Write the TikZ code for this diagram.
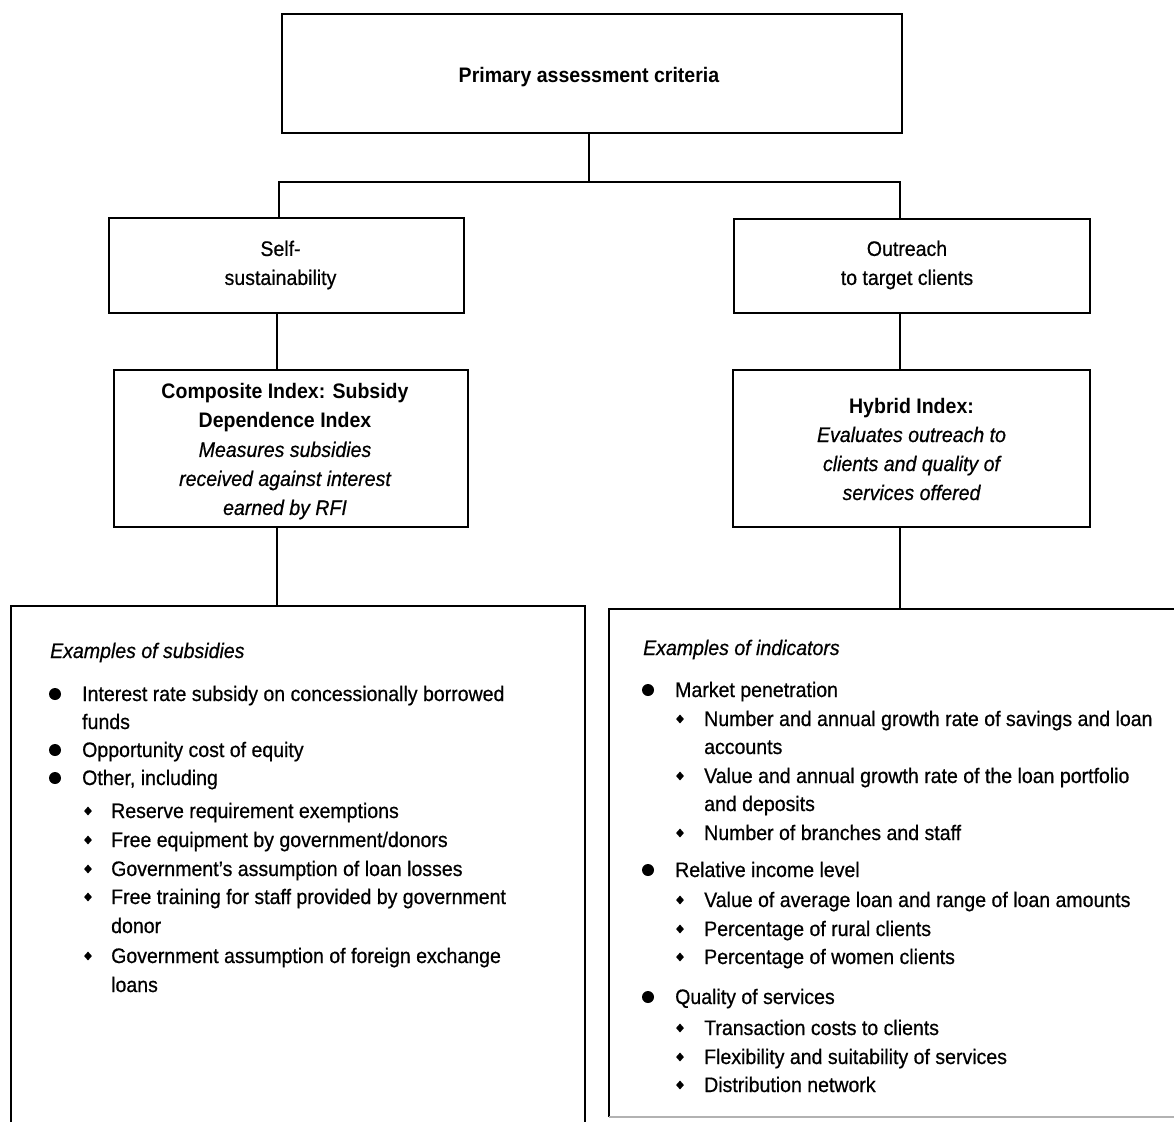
\documentclass[tikz,border=0pt]{standalone}
\usepackage{fontspec}
\setmainfont{Liberation Sans}[FakeStretch=0.93, UprightFeatures={FakeBold=0.6}, ItalicFeatures={FakeBold=0.6}]
\usetikzlibrary{shapes.geometric}
\begin{document}
\begin{tikzpicture}[x=1pt,y=-1pt,
  font=\fontsize{21}{29}\selectfont,
  box/.style={draw, line width=2.5pt, inner sep=0pt},
  txt/.style={inner sep=0pt, align=center},
  lnk/.style={line width=2.5pt},
  itm/.style={anchor=base west, inner sep=0pt},
  dotb/.style={circle, fill, inner sep=0pt, minimum size=12pt},
  diab/.style={diamond, fill, inner sep=0pt, minimum width=8pt, minimum height=9pt}]
\useasboundingbox (0,0) rectangle (1174,1122);
\fill[white] (0,0) rectangle (1174,1122);

% boxes
\node[box, minimum width=620pt, minimum height=119pt] (top) at (592,73.5) {};
\node[box, minimum width=355pt, minimum height=95pt] (self) at (286.5,265.5) {};
\node[box, minimum width=356pt, minimum height=94pt] (out) at (912,266) {};
\node[box, minimum width=354pt, minimum height=157pt] (comp) at (291,448.5) {};
\node[box, minimum width=357pt, minimum height=157pt] (hyb) at (911.5,448.5) {};

% box texts
\node[txt] (topt) at (589,77) {\bfseries Primary assessment criteria};
\node[txt] (selft) at (280.5,265) {Self-\\sustainability};
\node[txt] (outt) at (907,265) {Outreach\\to target clients};
\node[txt] (compt) at (285,451.5)
  {\bfseries Composite Index: Subsidy\\\bfseries Dependence Index\\\itshape Measures subsidies\\\itshape received against interest\\\itshape earned by RFI};
\node[txt] (hybt) at (911.5,449)
  {\bfseries Hybrid Index:\\\itshape Evaluates outreach to\\\itshape clients and quality of\\\itshape services offered};

% big boxes (cut off by the page)
\coordinate (lbig) at (277,606);
\coordinate (rbig) at (900,609);
\draw[lnk] (11,1122) -- (11,606) -- (lbig) -- (585,606) -- (585,1122);
\draw[lnk] (1176,609) -- (rbig) -- (609,609) -- (609,1117);
\draw[gray!60, line width=2pt] (609,1117) -- (1174,1117);

% connectors
\coordinate (j) at (589,182);
\coordinate (jl) at (279,182);
\coordinate (jr) at (900,182);
\coordinate (cl) at (277,0);
\coordinate (cr) at (900,0);
\draw[lnk] (j |- top.south) -- (j);
\draw[lnk] (jl |- self.north) -- (jl) -- (jr) -- (jr |- out.north);
\draw[lnk] (cl |- self.south) -- (cl |- comp.north);
\draw[lnk] (cl |- comp.south) -- (lbig);
\draw[lnk] (cr |- out.south) -- (cr |- hyb.north);
\draw[lnk] (cr |- hyb.south) -- (rbig);

% left list
\node[itm] (lh) at (50,658) {\itshape Examples of subsidies};
\node[dotb] (lb1) at (55,694) {};
\node[itm] (l1) at (82,701) {Interest rate subsidy on concessionally borrowed};
\node[itm] (l1b) at (82,729) {funds};
\node[dotb] (lb2) at (55,750) {};
\node[itm] (l2) at (82,757) {Opportunity cost of equity};
\node[dotb] (lb3) at (55,778) {};
\node[itm] (l3) at (82,785) {Other, including};
\node[diab] (ld1) at (88,811) {};
\node[itm] (l31) at (111,818) {Reserve requirement exemptions};
\node[diab] (ld2) at (88,840) {};
\node[itm] (l32) at (111,847) {Free equipment by government/donors};
\node[diab] (ld3) at (88,869) {};
\node[itm] (l33) at (111,876) {Government's assumption of loan losses};
\node[diab] (ld4) at (88,897) {};
\node[itm] (l34) at (111,904) {Free training for staff provided by government};
\node[itm] (l34b) at (111,933) {donor};
\node[diab] (ld5) at (88,956) {};
\node[itm] (l35) at (111,963) {Government assumption of foreign exchange};
\node[itm] (l35b) at (111,992) {loans};

% right list
\node[itm] (rh) at (643,655) {\itshape Examples of indicators};
\node[dotb] (rb1) at (648,690) {};
\node[itm] (r1) at (675,697) {Market penetration};
\node[diab] (rd1) at (680,719) {};
\node[itm] (r11) at (704,726) {Number and annual growth rate of savings and loan};
\node[itm] (r11b) at (704,754) {accounts};
\node[diab] (rd2) at (680,776) {};
\node[itm] (r12) at (704,783) {Value and annual growth rate of the loan portfolio};
\node[itm] (r12b) at (704,811) {and deposits};
\node[diab] (rd3) at (680,833) {};
\node[itm] (r13) at (704,840) {Number of branches and staff};
\node[dotb] (rb2) at (648,870) {};
\node[itm] (r2) at (675,877) {Relative income level};
\node[diab] (rd4) at (680,900) {};
\node[itm] (r21) at (704,907) {Value of average loan and range of loan amounts};
\node[diab] (rd5) at (680,929) {};
\node[itm] (r22) at (704,936) {Percentage of rural clients};
\node[diab] (rd6) at (680,957) {};
\node[itm] (r23) at (704,964) {Percentage of women clients};
\node[dotb] (rb3) at (648,997) {};
\node[itm] (r3) at (675,1004) {Quality of services};
\node[diab] (rd7) at (680,1028) {};
\node[itm] (r31) at (704,1035) {Transaction costs to clients};
\node[diab] (rd8) at (680,1057) {};
\node[itm] (r32) at (704,1064) {Flexibility and suitability of services};
\node[diab] (rd9) at (680,1085) {};
\node[itm] (r33) at (704,1092) {Distribution network};
\end{tikzpicture}
\end{document}
